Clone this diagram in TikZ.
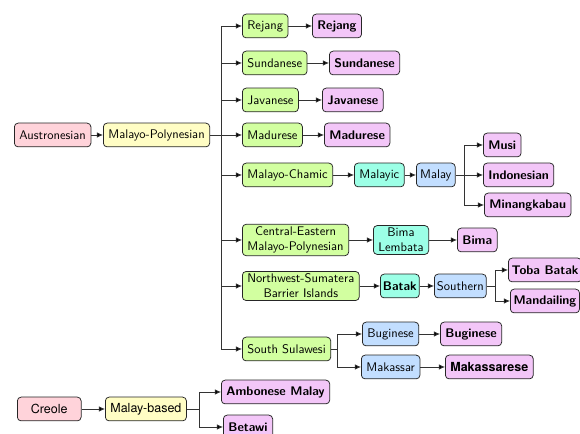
\documentclass[tikz,border=0pt]{standalone}
\usepackage{fontspec}
\usepackage{tikz}
\usetikzlibrary{arrows.meta}
\newfontfamily\helv{TeX Gyre Heros}

\definecolor{rootpink}{HTML}{FFD3DA}
\definecolor{famyellow}{HTML}{FFFDC4}
\definecolor{branchgreen}{HTML}{D2FFA0}
\definecolor{groupcyan}{HTML}{9CFFE6}
\definecolor{subblue}{HTML}{C2DEFF}
\definecolor{langviolet}{HTML}{F3C6F8}

\tikzset{
  box/.style={draw=black!85, rounded corners=3pt, anchor=west, font=\sffamily,
    inner xsep=4pt, inner ysep=2pt, minimum height=19pt, line width=0.6pt},
  root/.style={box, fill=rootpink},
  family/.style={box, fill=famyellow},
  branch/.style={box, fill=branchgreen},
  group/.style={box, fill=groupcyan},
  sub/.style={box, fill=subblue},
  lang/.style={box, fill=langviolet, font=\sffamily\bfseries},
  link/.style={-{Latex[length=5pt,width=4.5pt,fill=black]}, draw=black!80, line width=0.6pt},
}

\begin{document}
\begin{tikzpicture}[x=0.8pt,y=-0.8pt]
   \useasboundingbox (0,0) rectangle (580,434);
   % Austronesian tree
   \node[root] (aus) at (14,135) {Austronesian};
   \node[family] (mp) at (103,135) {Malayo-Polynesian};
   \coordinate (mpfork) at (221,135);

   \node[branch] (rejang) at (242,26) {Rejang};
   \node[lang] (rejangL) at (312,26) {Rejang};
   \node[branch] (sund) at (242,63) {Sundanese};
   \node[lang] (sundL) at (329,63) {Sundanese};
   \node[branch] (jav) at (242,100) {Javanese};
   \node[lang] (javL) at (322,100) {Javanese};
   \node[branch] (mad) at (242,135) {Madurese};
   \node[lang] (madL) at (324,135) {Madurese};

   \node[branch] (mch) at (242,175) {Malayo-Chamic};
   \node[group] (malayic) at (354,175) {Malayic};
   \node[sub, inner xsep=3pt] (malay) at (416,175) {Malay};
   \coordinate (malayfork) at (464,175);
   \node[lang] (musi) at (483,145) {Musi};
   \node[lang] (indo) at (483,175) {Indonesian};
   \node[lang] (minang) at (484,205) {Minangkabau};

   \node[branch, align=center] (cemp) at (242,240) {Central-Eastern\\Malayo-Polynesian};
   \node[group, align=center] (bimalem) at (373,240) {Bima\\Lembata};
   \node[lang] (bima) at (457,240) {Bima};

   \node[branch, align=center] (nwsb) at (242,286) {Northwest-Sumatera\\Barrier Islands};
   \node[group, font=\sffamily\bfseries, inner xsep=2pt] (batak) at (380,286) {Batak};
   \node[sub, inner xsep=2pt] (south) at (434,286) {Southern};
   \coordinate (southfork) at (495,286);
   \node[lang, inner xsep=2.5pt] (toba) at (508,270) {Toba Batak};
   \node[lang, inner xsep=2.5pt] (mand) at (510,301) {Mandailing};

   \node[branch] (ssul) at (242,349) {South Sulawesi};
   \coordinate (ssulfork) at (337,349);
   \node[sub] (bug) at (362,334) {Buginese};
   \node[lang] (bugL) at (440,334) {Buginese};
   \node[sub] (mak) at (361,367) {Makassar};
   \node[lang, font=\helv\bfseries] (makL) at (445,367) {Makassarese};

   % Creole tree
   \node[root, font=\helv, minimum width=51pt] (creole) at (17,409) {Creole};
   \node[family, font=\helv] (mbased) at (105,409) {Malay-based};
   \coordinate (mbfork) at (199,409);
   \node[lang] (ambon) at (221,392) {Ambonese Malay};
   \node[lang] (betawi) at (223,427) {Betawi};

   \draw[link] (aus) -- (mp);
   \draw[link] (mp.east) -- (mpfork) |- (rejang.west);
   \draw[link] (mpfork) |- (sund.west);
   \draw[link] (mpfork) |- (jav.west);
   \draw[link] (mpfork) -- (mad.west);
   \draw[link] (mpfork) |- (mch.west);
   \draw[link] (mpfork) |- (cemp.west);
   \draw[link] (mpfork) |- (nwsb.west);
   \draw[link] (mpfork) |- (ssul.west);

   \draw[link] (rejang) -- (rejangL);
   \draw[link] (sund) -- (sundL);
   \draw[link] (jav) -- (javL);
   \draw[link] (mad) -- (madL);

   \draw[link] (mch) -- (malayic);
   \draw[link] (malayic) -- (malay);
   \draw[link] (malay.east) -- (malayfork) |- (musi.west);
   \draw[link] (malayfork) -- (indo.west);
   \draw[link] (malayfork) |- (minang.west);

   \draw[link] (cemp) -- (bimalem);
   \draw[link] (bimalem) -- (bima);

   \draw[link] (nwsb) -- (batak);
   \draw[link] (batak) -- (south);
   \draw[link] (south.east) -- (southfork) |- (toba.west);
   \draw[link] (southfork) |- (mand.west);

   \draw[link] (ssul.east) -- (ssulfork) |- (bug.west);
   \draw[link] (ssulfork) |- (mak.west);
   \draw[link] (bug) -- (bugL);
   \draw[link] (mak) -- (makL);

   \draw[link] (creole) -- (mbased);
   \draw[link] (mbased.east) -- (mbfork) |- (ambon.west);
   \draw[link] (mbfork) |- (betawi.west);
\end{tikzpicture}
\end{document}
